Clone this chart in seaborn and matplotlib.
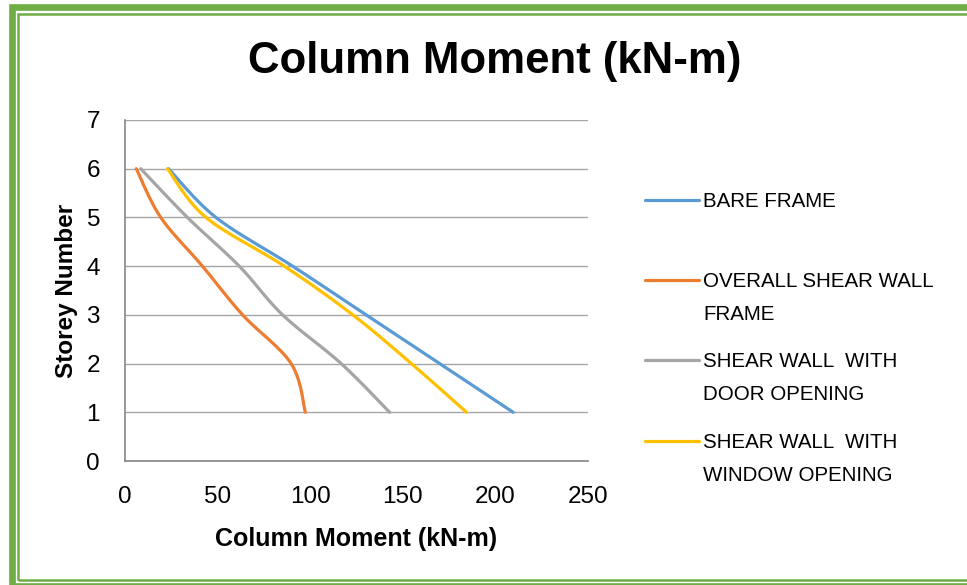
import numpy as np
import pandas as pd
import seaborn as sns
import matplotlib.pyplot as plt
from matplotlib import font_manager
from matplotlib.lines import Line2D
from matplotlib.patches import Rectangle

# data
storey = [1, 2, 3, 4, 5, 6]
bare_frame = [209.6, 169.9, 130.2, 90.5, 49.1, 23.5]
overall_wall = [97.4, 89.7, 63.5, 41.8, 19.3, 6.1]
door_opening = [142.9, 116.7, 85.1, 61.7, 33.7, 8.5]
window_opening = [184.4, 154.6, 123.0, 86.0, 43.7, 22.9]

series_names = ["BARE FRAME", "OVERALL SHEAR WALL\nFRAME",
                "SHEAR WALL  WITH\nDOOR OPENING", "SHEAR WALL  WITH\nWINDOW OPENING"]
series_values = [bare_frame, overall_wall, door_opening, window_opening]
colors = ["#5B9BD5", "#ED7D31", "#A5A5A5", "#FFC000"]

x_ticks = [0, 50, 100, 150, 200, 250]
y_ticks = [0, 1, 2, 3, 4, 5, 6, 7]

W, H = 967, 585


def pick_font(*names):
    have = {f.name for f in font_manager.fontManager.ttflist}
    for n in names:
        if n in have:
            return n
    return "DejaVu Sans"


# excel style smoothed line (bezier through the points)
def smooth(xs, ys, n=24):
    p = np.column_stack([xs, ys]).astype(float)
    p = np.vstack([p[0], p, p[-1]])
    out = []
    for i in range(1, len(p) - 2):
        p0, p1, p2, p3 = p[i - 1], p[i], p[i + 1], p[i + 2]
        c1 = p1 + (p2 - p0) / 6
        c2 = p2 - (p3 - p1) / 6
        t = np.linspace(0, 1, n)[:, None]
        seg = ((1 - t) ** 3) * p1 + 3 * ((1 - t) ** 2) * t * c1 \
            + 3 * (1 - t) * t ** 2 * c2 + t ** 3 * p2
        out.append(seg if i == 1 else seg[1:])
    out = np.vstack(out)
    return out[:, 0], out[:, 1]


sns.set_theme(style="white")
font = pick_font("Liberation Sans Narrow", "Liberation Sans")
plt.rcParams["font.family"] = [font, "DejaVu Sans"]
plt.rcParams["text.color"] = "black"

frames = []
for name, vals in zip(series_names, series_values):
    sx, sy = smooth(vals, storey)
    frames.append(pd.DataFrame({"moment": sx, "storey": sy, "series": name}))
df = pd.concat(frames, ignore_index=True)

fig = plt.figure(figsize=(W / 100, H / 100), dpi=100)
ax = fig.add_axes([125 / W, 1 - 461 / H, (588 - 125) / W, (461 - 120) / H])

sns.lineplot(data=df, x="moment", y="storey", hue="series", palette=colors,
             sort=False, estimator=None, linewidth=2.3, legend=False, ax=ax)

ax.set_xlim(0, 250)
ax.set_ylim(0, 7)
ax.set_xticks(x_ticks)
ax.set_yticks(y_ticks)
ax.tick_params(axis="both", length=0, labelsize=17.5, labelcolor="black")
ax.tick_params(axis="x", pad=18)
ax.tick_params(axis="y", pad=18)
ax.yaxis.grid(True, color="#A6A6A6", linewidth=1.0)
ax.xaxis.grid(False)
for s in ["top", "right"]:
    ax.spines[s].set_visible(False)
for s in ["left", "bottom"]:
    ax.spines[s].set_color("#868686")
    ax.spines[s].set_linewidth(1.2)

ax.set_xlabel("Column Moment (kN-m)", fontsize=18, fontweight="bold",
              labelpad=14, color="black")
ax.set_ylabel("Storey Number", fontsize=17.5, fontweight="bold",
              labelpad=6, color="black")

fig.text(495 / W, 1 - 62 / H, "Column Moment (kN-m)", fontsize=31.5,
         fontweight="bold", ha="center", va="center", color="black")

# legend, drawn like the excel one (sample line on first text row)
leg_fs = 14.8
cap = 0.716 * leg_fs * 100 / 72
leg_y = [200, 280, 360, 441]
line_gap = 33
for name, c, y in zip(series_names, colors, leg_y):
    fig.add_artist(Line2D([645 / W, 699 / W], [1 - y / H, 1 - y / H],
                          color=c, linewidth=2.3, transform=fig.transFigure))
    for i, row in enumerate(name.split("\n")):
        fig.text(703 / W, 1 - (y + cap / 2 + i * line_gap) / H, row,
                 fontsize=leg_fs, ha="left", va="baseline", color="black")

# green double border
fig.add_artist(Rectangle((11.5 / W, 1 - 586 / H), (990 - 11.5) / W, (586 - 7) / H,
                         fill=False, edgecolor="#70AD47", linewidth=4.8,
                         transform=fig.transFigure))
fig.add_artist(Rectangle((18 / W, 1 - 580 / H), (990 - 18) / W, (580 - 13.5) / H,
                         fill=False, edgecolor="#70AD47", linewidth=1.8,
                         transform=fig.transFigure))

fig.savefig("out.png", dpi=100)
